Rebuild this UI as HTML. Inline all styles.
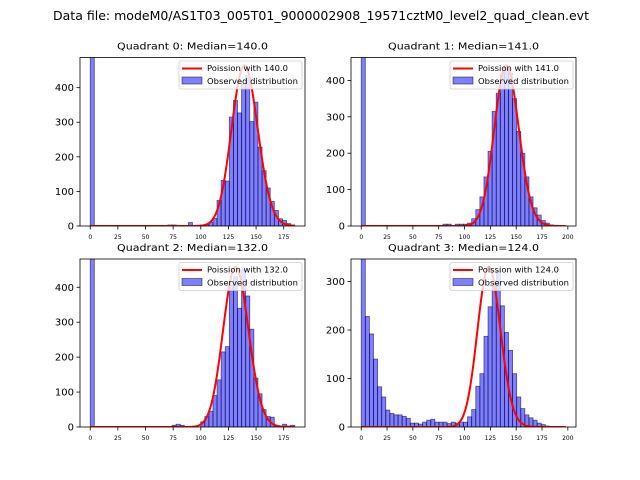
<!DOCTYPE html>
<html><head><meta charset="utf-8"><style>
body{margin:0;background:#fff;}
svg{display:block;font-family:"DejaVu Sans","Liberation Sans",sans-serif;}
</style></head><body>
<svg id="fig" width="640" height="480" viewBox="0 0 640 480">
<rect width="640" height="480" fill="#fff"/>
<text x="321" y="20" font-size="12" text-anchor="middle" textLength="536" lengthAdjust="spacingAndGlyphs">Data file: modeM0/AS1T03_005T01_9000002908_19571cztM0_level2_quad_clean.evt</text>
</svg>
<script>
// Quadrant 0
const q0Counts=[500,0,0,0,0,0,0,0,0,0,0,0,0,0,0,0,0,0,0,3,3,2,0,0,10,0,0,3,5,10,22,74,132,130,315,363,327,411,435,302,358,228,160,110,71,45,21,16,7,3];
// Quadrant 1
const q1Counts=[500,0,0,0,0,0,0,0,0,0,0,0,0,0,0,0,0,0,0,0,5,5,0,5,5,5,8,20,45,80,135,205,315,365,420,440,420,350,260,200,135,80,50,30,15,8,3,1,0,0];
// Quadrant 2
const q2Counts=[500,0,0,0,0,0,0,0,0,0,0,0,0,0,0,0,0,0,0,0,5,8,5,0,0,0,0,15,30,45,90,135,215,230,405,430,340,450,375,280,140,95,50,30,28,5,0,8,3,5];
// Quadrant 3
const q3Counts=[500,228,192,140,83,62,35,28,25,25,22,18,8,8,6,10,14,16,10,10,10,7,10,8,10,10,21,36,84,110,187,248,290,322,250,195,158,110,62,38,25,19,14,8,5,2,0,0,0,0];
const medians=[140,141,132,124];
const dataMax=[185,198,185,198];
const poissonPeak=[464,441,458,330];
const yTickLabels=[[0,100,200,300,400],[0,100,200,300,400],[0,100,200,300,400],[0,100,200,300]];
const xTickLabels=[[0,25,50,75,100,125,150,175],[0,25,50,75,100,125,150,175,200],[0,25,50,75,100,125,150,175],[0,25,50,75,100,125,150,175,200]];

const NS="http://www.w3.org/2000/svg";
const fig=document.getElementById('fig');
function mk(tag,attrs,parent){const e=document.createElementNS(NS,tag);for(const k in attrs)e.setAttribute(k,attrs[k]);(parent||fig).appendChild(e);return e;}
function lgamma(x){
  if(x<7){let s=0;while(x<7){s-=Math.log(x);x+=1;}return s+lgamma(x);}
  return (x-0.5)*Math.log(x)-x+0.5*Math.log(2*Math.PI)+1/(12*x)-1/(360*x*x*x);
}
const boxes=[[80,305,57.5,226],[351,576,57.5,226],[80,305,259,427],[351,576,259,427]];
const allCounts=[q0Counts,q1Counts,q2Counts,q3Counts];
for(let q=0;q<4;q++){
  const [L,R,T,B]=boxes[q];
  const counts=allCounts[q], mu=medians[q], mx=dataMax[q];
  const xmin=-0.05*mx, xmax=1.05*mx, ymax=poissonPeak[q]*1.05;
  const X=v=>L+(v-xmin)/(xmax-xmin)*(R-L);
  const Y=v=>B-v/ymax*(B-T);
  const g=mk('g',{});
  
  
  const cid='clip'+q;
  const cp=mk('clipPath',{id:cid},g);mk('rect',{x:L,y:T,width:R-L,height:B-T},cp);
  const plot=mk('g',{'clip-path':'url(#'+cid+')'},g);
  const bw=mx/counts.length;
  counts.forEach((c,i)=>{
    if(c<=0)return;
    const r=mk('rect',{x:X(i*bw),y:Y(c),width:X((i+1)*bw)-X(i*bw),height:B-Y(c),fill:'rgba(0,0,255,0.5)',stroke:'rgba(0,0,60,0.6)','stroke-width':0.8},plot);
    
    
  });
  const lpm=lgamma(mu+1)-mu*Math.log(mu)+mu;
  let d='';
  for(let k=0;k<=mx;k+=0.5){
    const lp=k*Math.log(mu)-mu-lgamma(k+1)+lpm;
    const v=poissonPeak[q]*Math.exp(lp);
    d+=(k===0?'M':'L')+X(k).toFixed(2)+','+Y(v).toFixed(2);
  }
  const line=mk('path',{d:d,fill:'none',stroke:'#ff0000','stroke-width':2},plot);
  
  
  const frame=mk('rect',{x:L,y:T,width:R-L,height:B-T,fill:'none',stroke:'#000','stroke-width':0.8},g);
  
  
  yTickLabels[q].forEach(t=>{
    mk('line',{x1:L-3.5,x2:L,y1:Y(t),y2:Y(t),stroke:'#000','stroke-width':0.8},g);
    const tx=mk('text',{x:L-6,y:Y(t)+3.5,'font-size':10,'text-anchor':'end'},g);
    tx.textContent=t;
    
    
  });
  xTickLabels[q].forEach(t=>{
    mk('line',{x1:X(t),x2:X(t),y1:B,y2:B+3.5,stroke:'#000','stroke-width':0.8},g);
    const tx=mk('text',{x:X(t),y:B+13,'font-size':6,'text-anchor':'middle'},g);
    tx.textContent=t;
    
    
  });
  const title=mk('text',{x:(L+R)/2,y:T-8,'font-size':9.5,'text-anchor':'middle',textLength:151,lengthAdjust:'spacingAndGlyphs'},g);
  title.textContent='Quadrant '+q+': Median='+mu.toFixed(1);
  
  
  const lg=mk('g',{},g);
  
  
  const lx=R-126, ly=T+3.5;
  mk('rect',{x:lx,y:ly,width:123,height:28,rx:2,fill:'rgba(255,255,255,0.8)',stroke:'#ccc','stroke-width':0.8},lg);
  mk('line',{x1:lx+3,x2:lx+23,y1:ly+7.5,y2:ly+7.5,stroke:'#ff0000','stroke-width':2},lg);
  const t1=mk('text',{x:lx+28,y:ly+10,'font-size':7.5,textLength:81,lengthAdjust:'spacingAndGlyphs'},lg);t1.textContent='Poission with '+mu.toFixed(1);
  
  
  mk('rect',{x:lx+3,y:ly+16,width:20,height:7,fill:'rgba(0,0,255,0.5)',stroke:'rgba(0,0,60,0.6)','stroke-width':0.8},lg);
  const t2=mk('text',{x:lx+28,y:ly+23,'font-size':7.5,textLength:91,lengthAdjust:'spacingAndGlyphs'},lg);t2.textContent='Observed distribution';
  
  
}
</script>
</body></html>
